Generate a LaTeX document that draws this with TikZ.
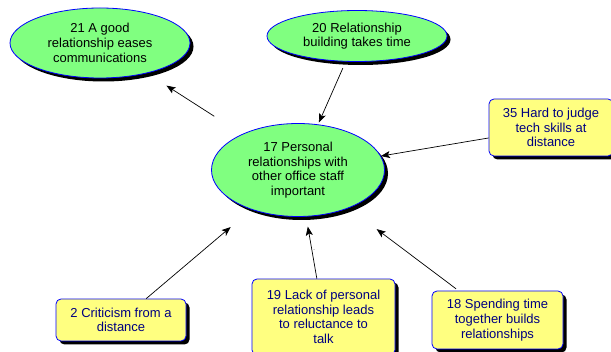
\documentclass[tikz,border=0pt]{standalone}
\usepackage{fontspec}
\setmainfont{Liberation Sans}
\usepackage{xcolor}
\definecolor{mint}{RGB}{128, 255, 128}
\definecolor{lemon}{RGB}{255, 255, 128}
\definecolor{rim}{RGB}{ 0,   0, 255}
\definecolor{ink}{RGB}{ 0,   0, 128}
\usetikzlibrary{shapes.geometric, arrows.meta}
\tikzset{
  hardshadow/.style={preaction={fill=black,
    transform canvas={xshift=3.5pt, yshift=-3.5pt}}},
  ideanode/.style={ellipse, draw=rim, fill=mint, line width=0.8pt,
    inner sep=0pt, align=center, text=black,
    font=\fontsize{13}{14.7}\selectfont, hardshadow},
  notebox/.style={rectangle, draw=rim, fill=lemon, line width=0.8pt,
    rounded corners=5pt, inner sep=0pt, align=center, text=ink,
    font=\fontsize{13}{14.7}\selectfont, hardshadow},
  linkarrow/.style={-{Stealth[length=9pt, width=7pt, inset=2pt]}, line width=0.7pt},
  ticklabel/.style={font=\tiny, text=black!70, inner sep=0pt}
}

\begin{document}
\begin{tikzpicture}[x=1pt, y=-1pt]

  \useasboundingbox (0,0) rectangle (611,352);
  \clip (0,0) rectangle (611,352);

  % Ideas (ellipses)
  \node[ideanode, minimum width=180pt, minimum height=70pt] (good) at (100,43)
    {21 A good\\relationship eases\\communications};
  \node[ideanode, minimum width=180pt, minimum height=51pt] (time) at (357,36)
    {20 Relationship\\building takes time};
  \node[ideanode, minimum width=173pt, minimum height=93pt] (personal) at (298,170)
    {17 Personal\\relationships with\\other office staff\\important};

  % Notes (boxes)
  \node[notebox, minimum width=124pt, minimum height=57pt] (judge) at (551,127.5)
    {35 Hard to judge\\tech skills at\\distance};
  \node[notebox, minimum width=130pt, minimum height=42pt] (critic) at (121,320)
    {2 Criticism from a\\distance};
  \node[notebox, minimum width=143pt, minimum height=76pt] (reluct) at (323.5,317)
    {19 Lack of personal\\relationship leads\\to reluctance to\\talk};
  \node[notebox, minimum width=131pt, minimum height=58pt] (spend) at (497.5,320)
    {18 Spending time\\together builds\\relationships};

  % Links
  \draw[linkarrow, shorten <=33pt, shorten >=23pt] (personal) -- (good);
  \draw[linkarrow, shorten <=7pt, shorten >=2pt] (time) -- (personal);
  \draw[linkarrow] (judge) -- (personal);
  \draw[linkarrow, shorten >=27pt] (critic) -- node[ticklabel, pos=0.7, right=5pt] {-} (personal);
  \draw[linkarrow, shorten >=10pt] (reluct) -- node[ticklabel, pos=0.45, right=1pt] {-} (personal);
  \draw[linkarrow, shorten <=3pt, shorten >=35pt] (spend) -- (personal);

\end{tikzpicture}
\end{document}
